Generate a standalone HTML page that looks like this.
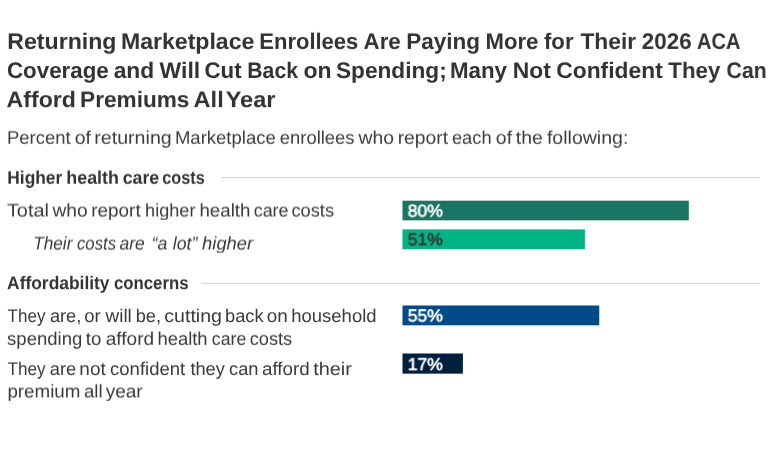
<!DOCTYPE html>
<html>
<head>
<meta charset="utf-8">
<title>Returning Marketplace Enrollees</title>
<style>
html,body{margin:0;padding:0;background:#fff;}
body{width:780px;height:470px;position:relative;overflow:hidden;font-family:"Liberation Sans",sans-serif;color:#333;-webkit-font-smoothing:antialiased;text-rendering:geometricPrecision;}
.ln{position:absolute;left:0;width:780px;white-space:nowrap;line-height:1;will-change:transform;transform-origin:0 0;}
.w{position:absolute;left:0;top:0;white-space:nowrap;transform-origin:0 0;line-height:1;}
.title{font-weight:bold;color:#333;word-spacing:-1.4px;}
.sub{color:#3d3d3d;word-spacing:-1.1px;}
.hd{font-weight:bold;color:#333;word-spacing:-1.1px;}
.lb{color:#3a3a3a;word-spacing:-1.1px;}
.it{font-style:italic;}
.v{position:absolute;left:0;white-space:nowrap;font-weight:normal;font-size:18px;line-height:1;color:#fff;transform-origin:0 0;will-change:transform;-webkit-text-stroke:0.6px #fff;}
</style>
</head>
<body>
<div class="ln title" style="top:30px;height:22.5px;font-size:22.5px;transform:translateY(0.90px) scaleX(0.9999);">
<span class="w" style="transform:translateX(7.33px) scaleX(1.0270);">Returning</span>
<span class="w" style="transform:translateX(120.90px) scaleX(1.0260);">Marketplace</span>
<span class="w" style="transform:translateX(259.28px) scaleX(0.9778);">Enrollees</span>
<span class="w" style="transform:translateX(363.61px) scaleX(0.9868);">Are</span>
<span class="w" style="transform:translateX(406.22px) scaleX(1.0013);">Paying</span>
<span class="w" style="transform:translateX(485.48px) scaleX(0.9837);">More</span>
<span class="w" style="transform:translateX(543.96px) scaleX(0.9857);">for</span>
<span class="w" style="transform:translateX(580.45px) scaleX(1.0116);">Their</span>
<span class="w" style="transform:translateX(641.83px) scaleX(0.9968);">2026</span>
<span class="w" style="transform:translateX(696.99px) scaleX(0.8936);">ACA</span>
</div>
<div class="ln title" style="top:60px;height:22.5px;font-size:22.5px;transform:translateY(0.00px) scaleX(0.9999);">
<span class="w" style="transform:translateX(6.98px) scaleX(0.9916);">Coverage</span>
<span class="w" style="transform:translateX(113.64px) scaleX(1.0126);">and</span>
<span class="w" style="transform:translateX(159.62px) scaleX(1.0207);">Will</span>
<span class="w" style="transform:translateX(204.45px) scaleX(0.9896);">Cut</span>
<span class="w" style="transform:translateX(247.32px) scaleX(0.9407);">Back</span>
<span class="w" style="transform:translateX(303.42px) scaleX(1.0249);">on</span>
<span class="w" style="transform:translateX(335.99px) scaleX(1.0066);">Spending;</span>
<span class="w" style="transform:translateX(449.97px) scaleX(0.9914);">Many</span>
<span class="w" style="transform:translateX(512.85px) scaleX(1.0166);">Not</span>
<span class="w" style="transform:translateX(556.23px) scaleX(1.0150);">Confident</span>
<span class="w" style="transform:translateX(668.27px) scaleX(0.9951);">They</span>
<span class="w" style="transform:translateX(726.57px) scaleX(0.9472);">Can</span>
</div>
<div class="ln title" style="top:89px;height:22.5px;font-size:22.5px;transform:translateY(0.10px) scaleX(0.9999);">
<span class="w" style="transform:translateX(6.53px) scaleX(1.0288);">Afford</span>
<span class="w" style="transform:translateX(80.09px) scaleX(1.0047);">Premiums</span>
<span class="w" style="transform:translateX(193.60px) scaleX(1.0470);">All</span>
<span class="w" style="transform:translateX(225.69px) scaleX(1.0446);">Year</span>
</div>
<div class="ln sub" style="top:128px;height:18.3px;font-size:18.3px;transform:translateY(0.70px) scaleX(0.9999);">
<span class="w" style="transform:translateX(6.97px) scaleX(1.0092);">Percent</span>
<span class="w" style="transform:translateX(74.70px) scaleX(1.0635);">of</span>
<span class="w" style="transform:translateX(94.31px) scaleX(1.0725);">returning</span>
<span class="w" style="transform:translateX(174.96px) scaleX(1.0118);">Marketplace</span>
<span class="w" style="transform:translateX(279.76px) scaleX(1.0078);">enrollees</span>
<span class="w" style="transform:translateX(358.48px) scaleX(1.0582);">who</span>
<span class="w" style="transform:translateX(397.69px) scaleX(1.0533);">report</span>
<span class="w" style="transform:translateX(451.94px) scaleX(0.9991);">each</span>
<span class="w" style="transform:translateX(495.87px) scaleX(1.0635);">of</span>
<span class="w" style="transform:translateX(515.81px) scaleX(1.0635);">the</span>
<span class="w" style="transform:translateX(546.93px) scaleX(1.0679);">following:</span>
</div>
<div class="ln hd" style="top:168px;height:18.3px;font-size:18.3px;transform:translateY(0.70px) scaleX(0.9999);">
<span class="w" style="transform:translateX(7.36px) scaleX(0.9479);">Higher</span>
<span class="w" style="transform:translateX(66.31px) scaleX(0.9766);">health</span>
<span class="w" style="transform:translateX(122.65px) scaleX(0.9717);">care</span>
<span class="w" style="transform:translateX(162.31px) scaleX(0.8906);">costs</span>
</div>
<div class="ln lb" style="top:201px;height:18.3px;font-size:18.3px;transform:translateY(0.50px) scaleX(0.9999);">
<span class="w" style="transform:translateX(6.93px) scaleX(1.0865);">Total</span>
<span class="w" style="transform:translateX(52.47px) scaleX(1.0502);">who</span>
<span class="w" style="transform:translateX(91.28px) scaleX(1.0340);">report</span>
<span class="w" style="transform:translateX(145.10px) scaleX(0.9899);">higher</span>
<span class="w" style="transform:translateX(199.48px) scaleX(1.0219);">health</span>
<span class="w" style="transform:translateX(253.67px) scaleX(0.9811);">care</span>
<span class="w" style="transform:translateX(291.46px) scaleX(0.9987);">costs</span>
</div>
<div class="ln lb it" style="top:234px;height:18.3px;font-size:18.3px;transform:translateY(0.50px) scaleX(0.9999);">
<span class="w" style="transform:translateX(33.23px) scaleX(0.9409);">Their</span>
<span class="w" style="transform:translateX(76.90px) scaleX(0.9197);">costs</span>
<span class="w" style="transform:translateX(119.44px) scaleX(0.9594);">are</span>
<span class="w" style="transform:translateX(151.62px) scaleX(0.9692);">“a</span>
<span class="w" style="transform:translateX(172.83px) scaleX(0.9692);">lot”</span>
<span class="w" style="transform:translateX(202.11px) scaleX(1.0041);">higher</span>
</div>
<div class="ln hd" style="top:274px;height:18.3px;font-size:18.3px;transform:translateY(0.10px) scaleX(0.9999);">
<span class="w" style="transform:translateX(7.09px) scaleX(0.9517);">Affordability</span>
<span class="w" style="transform:translateX(113.93px) scaleX(0.9183);">concerns</span>
</div>
<div class="ln lb" style="top:307px;height:18.3px;font-size:18.3px;transform:translateY(0.00px) scaleX(0.9999);">
<span class="w" style="transform:translateX(7.60px) scaleX(0.9310);">They</span>
<span class="w" style="transform:translateX(49.89px) scaleX(0.9977);">are,</span>
<span class="w" style="transform:translateX(84.18px) scaleX(1.0112);">or</span>
<span class="w" style="transform:translateX(105.51px) scaleX(1.0350);">will</span>
<span class="w" style="transform:translateX(135.74px) scaleX(0.9949);">be,</span>
<span class="w" style="transform:translateX(164.31px) scaleX(1.0706);">cutting</span>
<span class="w" style="transform:translateX(225.00px) scaleX(0.9998);">back</span>
<span class="w" style="transform:translateX(266.82px) scaleX(1.0345);">on</span>
<span class="w" style="transform:translateX(291.32px) scaleX(1.0098);">household</span>
</div>
<div class="ln lb" style="top:329px;height:18.3px;font-size:18.3px;transform:translateY(0.80px) scaleX(0.9999);">
<span class="w" style="transform:translateX(7.07px) scaleX(1.0142);">spending</span>
<span class="w" style="transform:translateX(85.79px) scaleX(1.0207);">to</span>
<span class="w" style="transform:translateX(105.72px) scaleX(1.0414);">afford</span>
<span class="w" style="transform:translateX(157.39px) scaleX(1.0085);">health</span>
<span class="w" style="transform:translateX(211.80px) scaleX(0.9679);">care</span>
<span class="w" style="transform:translateX(249.69px) scaleX(0.9949);">costs</span>
</div>
<div class="ln lb" style="top:359px;height:18.3px;font-size:18.3px;transform:translateY(0.90px) scaleX(0.9999);">
<span class="w" style="transform:translateX(7.45px) scaleX(0.9381);">They</span>
<span class="w" style="transform:translateX(49.74px) scaleX(1.0015);">are</span>
<span class="w" style="transform:translateX(79.36px) scaleX(1.0367);">not</span>
<span class="w" style="transform:translateX(110.08px) scaleX(1.0114);">confident</span>
<span class="w" style="transform:translateX(190.41px) scaleX(0.9971);">they</span>
<span class="w" style="transform:translateX(229.04px) scaleX(0.9969);">can</span>
<span class="w" style="transform:translateX(262.02px) scaleX(1.0285);">afford</span>
<span class="w" style="transform:translateX(313.19px) scaleX(1.0889);">their</span>
</div>
<div class="ln lb" style="top:382px;height:18.3px;font-size:18.3px;transform:translateY(0.40px) scaleX(0.9999);">
<span class="w" style="transform:translateX(7.41px) scaleX(1.0267);">premium</span>
<span class="w" style="transform:translateX(83.91px) scaleX(1.0210);">all</span>
<span class="w" style="transform:translateX(105.65px) scaleX(1.0413);">year</span>
</div>
<svg width="780" height="470" viewBox="0 0 780 470" style="position:absolute;left:0;top:0;" shape-rendering="geometricPrecision">
<rect x="221.1" y="177" width="539" height="1" fill="#d2d2d2"/>
<rect x="201.2" y="282.8" width="558.9" height="1" fill="#d2d2d2"/>
<rect x="402.5" y="200.7" width="286.3" height="19.65" fill="#1b7563"/>
<rect x="402.5" y="229.4" width="182.4" height="19.8" fill="#00b483"/>
<rect x="402.5" y="305.5" width="196.75" height="19.8" fill="#004b87"/>
<rect x="402.5" y="353.5" width="60.4" height="20.15" fill="#00203e"/>
</svg>
<div class="v" id="v1" style="top:201px;transform:translate(407.7px,1.275px) scale(0.974,0.955);">80%</div>
<div class="v" id="v2" style="top:230px;transform:translate(407.7px,0.875px) scale(0.974,0.955);color:#333;-webkit-text-stroke-color:#333;">51%</div>
<div class="v" id="v3" style="top:306px;transform:translate(407.7px,1.075px) scale(0.974,0.955);">55%</div>
<div class="v" id="v4" style="top:354px;transform:translate(407.7px,1.8px) scale(0.974,0.955);">17%</div>
</body>
</html>
